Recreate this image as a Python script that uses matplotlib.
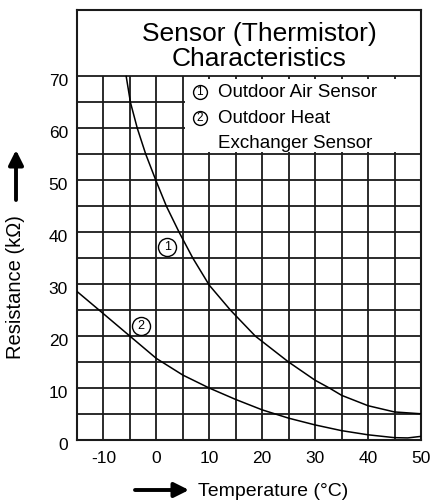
import matplotlib
matplotlib.use("Agg")
from matplotlib import pyplot as plt
from matplotlib.patches import Rectangle
import matplotlib.transforms as mtransforms

plt.rcParams['font.family'] = ['Liberation Sans', 'DejaVu Sans']
plt.rcParams['axes.unicode_minus'] = False

# curve 1: outdoor air sensor
temp_air = [-5.7, -4.9, -3.6, -2.0, -0.1, 1.9, 4.3, 6.9, 10, 14, 18.7, 25, 30, 32.7, 35, 40, 45, 50]
res_air = [70, 65, 60, 55, 50, 45, 40, 35, 29.8, 25, 20, 15, 11.5, 10, 8.6, 6.6, 5.4, 5.05]

# curve 2: outdoor heat exchanger sensor
temp_hex = [-15, -10.8, -5, 0, 5, 10, 15, 20, 25, 30, 35, 40, 45, 47.5, 50]
res_hex = [28.6, 25, 20, 15.7, 12.5, 10.0, 7.8, 5.8, 4.2, 2.9, 1.8, 1.0, 0.45, 0.4, 0.7]

x_ticks = [-10, 0, 10, 20, 30, 40, 50]
y_ticks = [0, 10, 20, 30, 40, 50, 60, 70]
x_grid = [-10, -5, 0, 5, 10, 15, 20, 25, 30, 35, 40, 45]
y_grid = [5, 10, 15, 20, 25, 30, 35, 40, 45, 50, 55, 60, 65, 70]

title = "Sensor (Thermistor)\nCharacteristics"
legend_lines = ["Outdoor Air Sensor", "Outdoor Heat", "Exchanger Sensor"]

W, H = 433, 504
fig = plt.figure(figsize=(W / 100, H / 100), dpi=100)
ax = fig.add_axes([77 / W, 64 / H, 344 / W, 430 / H])
ax.set_xlim(-15, 50)
ax.set_ylim(0, 82.8)

grid_kw = dict(color='#1a1a1a', lw=1.3, zorder=1)
ax.vlines(x_grid, 0, 70, **grid_kw)
ax.hlines(y_grid, -15, 50, **grid_kw)

# white panel behind the legend text
ax.add_patch(Rectangle((5.35, 55.4), 44.6, 14.2, facecolor='white', edgecolor='none', zorder=2))

ax.plot(temp_air, res_air, color='black', lw=1.1, zorder=3)
ax.plot(temp_hex, res_hex, color='black', lw=1.1, zorder=3)

def circled(x, y, s, size=13, fs=9):
    ax.plot(x, y, 'o', ms=size, mfc='white', mec='black', mew=1.0, zorder=4)
    ax.text(x, y, s, ha='center', va='center', fontsize=fs, zorder=5)

circled(2.1, 37.2, '1')
circled(-3.0, 21.9, '2')
circled(8.2, 67.0, '1', size=10, fs=8.5)
circled(8.2, 62.0, '2', size=10, fs=8.5)
ax.text(11.7, 67.0, legend_lines[0], fontsize=13.5, va='center', zorder=5)
ax.text(11.7, 62.0, legend_lines[1], fontsize=13.5, va='center', zorder=5)
ax.text(11.7, 57.1, legend_lines[2], fontsize=13.5, va='center', zorder=5)

ax.text(19.4, 75.8, title, fontsize=19, ha='center', va='center', linespacing=1.05, zorder=5)

ax.set_xticks(x_ticks)
ax.set_yticks(y_ticks)
ax.tick_params(length=0, labelsize=12.5)
ax.tick_params(axis='x', pad=8)
ax.tick_params(axis='y', pad=6.5)
off = mtransforms.ScaledTranslation(0, -4 / 100, fig.dpi_scale_trans)
for lab in ax.get_yticklabels():
    lab.set_transform(lab.get_transform() + off)

for s in ax.spines.values():
    s.set_linewidth(1.5)
    s.set_color('#1a1a1a')

# axis titles with arrows
fig.text(198 / W, 12 / H, "Temperature (°C)", fontsize=14, ha='left', va='center')
fig.text(16 / W, 217 / H, "Resistance (kΩ)", fontsize=14.5, ha='center', va='center', rotation=90)
arrow_kw = dict(arrowstyle='-|>', mutation_scale=22, lw=2.8, color='black', shrinkA=0, shrinkB=0)
ax.annotate('', xy=(189, 14), xytext=(135, 14), xycoords='figure pixels',
            textcoords='figure pixels', arrowprops=arrow_kw, annotation_clip=False)
ax.annotate('', xy=(16, 354), xytext=(16, 304), xycoords='figure pixels',
            textcoords='figure pixels', arrowprops=arrow_kw, annotation_clip=False)

fig.savefig('out.png', dpi=100)
